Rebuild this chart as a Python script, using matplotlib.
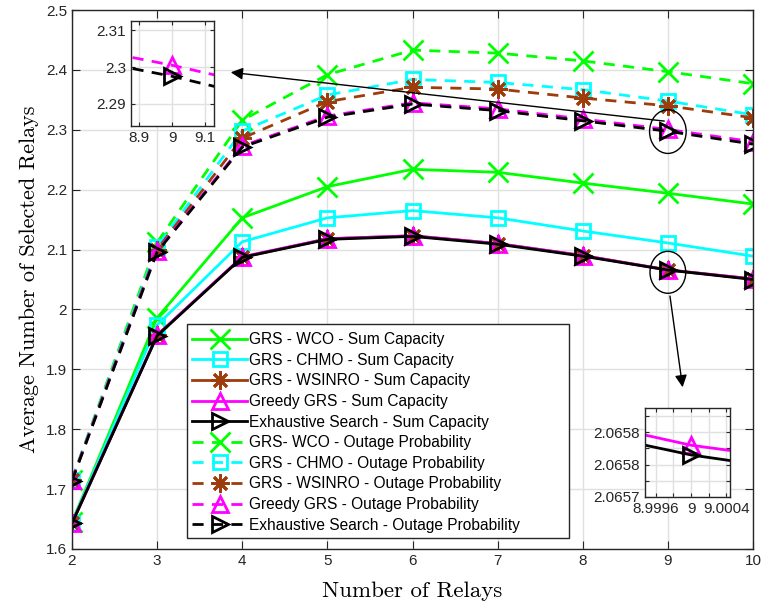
import matplotlib
matplotlib.use("Agg")
import matplotlib.pyplot as plt
from matplotlib.patches import Ellipse, Rectangle
import numpy as np

relays = [2, 3, 4, 5, 6, 7, 8, 9, 10]

# Sum capacity (solid)
wco_sc    = [1.645, 1.986, 2.153, 2.205, 2.234, 2.229, 2.211, 2.194, 2.176]
chmo_sc   = [1.644, 1.974, 2.113, 2.153, 2.165, 2.153, 2.131, 2.111, 2.089]
wsinro_sc = [1.643, 1.957, 2.087, 2.118, 2.123, 2.110, 2.090, 2.0662, 2.051]
greedy_sc = [1.643, 1.957, 2.088, 2.118, 2.123, 2.110, 2.090, 2.065804, 2.051]
exh_sc    = [1.643, 1.956, 2.087, 2.117, 2.122, 2.109, 2.089, 2.065792, 2.050]

# Outage probability (dashed)
wco_op    = [1.716, 2.112, 2.316, 2.392, 2.433, 2.428, 2.415, 2.397, 2.377]
chmo_op   = [1.716, 2.105, 2.298, 2.358, 2.384, 2.379, 2.367, 2.348, 2.325]
wsinro_op = [1.715, 2.100, 2.286, 2.347, 2.371, 2.368, 2.353, 2.340, 2.320]
greedy_op = [1.715, 2.098, 2.273, 2.323, 2.345, 2.335, 2.318, 2.3005, 2.280]
exh_op    = [1.714, 2.096, 2.271, 2.321, 2.343, 2.332, 2.315, 2.2975, 2.276]

labels = [
    "GRS - WCO - Sum Capacity",
    "GRS - CHMO - Sum Capacity",
    "GRS - WSINRO - Sum Capacity",
    "Greedy GRS - Sum Capacity",
    "Exhaustive Search - Sum Capacity",
    "GRS- WCO - Outage Probability",
    "GRS - CHMO - Outage Probability",
    "GRS - WSINRO - Outage Probability",
    "Greedy GRS - Outage Probability",
    "Exhaustive Search - Outage Probability",
]

GREEN = "#00ff00"
CYAN = "#00ffff"
BROWN = "#9e3c0c"
MAG = "#ff00ff"
BLACK = "#000000"
ASTER = (8, 2, 0)
DASH = (0, (4, 3))

# (values, colour, marker, markersize, linestyle)
series = [
    (wco_sc, GREEN, "x", 14, "-"),
    (chmo_sc, CYAN, "s", 10, "-"),
    (wsinro_sc, BROWN, ASTER, 13, "-"),
    (greedy_sc, MAG, "^", 12, "-"),
    (exh_sc, BLACK, ">", 12, "-"),
    (wco_op, GREEN, "x", 14, DASH),
    (chmo_op, CYAN, "s", 10, DASH),
    (wsinro_op, BROWN, ASTER, 13, DASH),
    (greedy_op, MAG, "^", 12, DASH),
    (exh_op, BLACK, ">", 12, DASH),
]

fig = plt.figure(figsize=(7.61, 6.09), dpi=100)
ax = fig.add_axes([72/761, 60/609, 681/761, 539/609])

def draw(a, lw=2.0, mew=2.0, label=True):
    for (vals, c, m, ms, ls), lab in zip(series, labels):
        a.plot(relays, vals, color=c, linestyle=ls, linewidth=lw, marker=m,
               markersize=ms, markerfacecolor="none", markeredgecolor=c,
               markeredgewidth=mew, label=lab if label else None)

def style_ticks(a, length):
    a.tick_params(direction="in", top=True, right=True, length=length, labelsize=11,
                  colors="#262626", labelcolor="#262626")
    for t in a.get_xticklabels() + a.get_yticklabels():
        t.set_fontfamily("Liberation Sans")
    for s in a.spines.values():
        s.set_color("#262626")
        s.set_linewidth(1.0)
    a.grid(True, color="#e0e0e0", linewidth=1.0)
    a.set_axisbelow(True)

draw(ax)
ax.set_xlim(2, 10)
ax.set_ylim(1.6, 2.5)
ax.set_xticks(relays)
ax.set_yticks(np.round(np.arange(1.6, 2.501, 0.1), 1))
ax.set_yticklabels(["1.6", "1.7", "1.8", "1.9", "2", "2.1", "2.2", "2.3", "2.4", "2.5"])
style_ticks(ax, 6)
ax.set_xlabel("Number of Relays", fontfamily="cmr10", fontsize=16.5, labelpad=10)
ax.set_ylabel("Average Number of Selected Relays", fontfamily="cmr10", fontsize=16, labelpad=5)

# Legend box (MATLAB-style with extra right padding)
ax.add_patch(Rectangle((187/761, 71/609), 382/761, 214/609, transform=fig.transFigure,
                       facecolor="white", edgecolor="#262626", linewidth=1.0, zorder=4.9))
leg = ax.legend(loc="lower left", bbox_to_anchor=(187/761, 71/609), bbox_transform=fig.transFigure,
                prop={"family": "Liberation Sans", "size": 11.2},
                handlelength=3.5, handletextpad=0.15, labelspacing=0.36, borderpad=0.35,
                frameon=False, borderaxespad=0.0)

# Ellipses
ax.add_patch(Ellipse((9, 2.297), 0.43, 0.073, fill=False, edgecolor="black", linewidth=1.0, zorder=10))
ax.add_patch(Ellipse((9, 2.062), 0.42, 0.07, fill=False, edgecolor="black", linewidth=1.0, zorder=10))

# Inset 1
ax1 = fig.add_axes([131/761, (609-126)/609, 83/761, 105/609])
draw(ax1, label=False)
ax1.set_xlim(8.876, 9.127)
ax1.set_ylim(2.284, 2.3125)
ax1.set_xticks([8.9, 9, 9.1])
ax1.set_xticklabels(["8.9", "9", "9.1"])
ax1.set_yticks([2.29, 2.3, 2.31])
ax1.set_yticklabels(["2.29", "2.3", "2.31"])
style_ticks(ax1, 3)

# Inset 2
ax2 = fig.add_axes([645/761, (609-497)/609, 85/761, 89/609])
draw(ax2, label=False)
ax2.set_xlim(8.99948, 9.00044)
ax2.set_ylim(2.06574, 2.06585)
ax2.set_xticks([8.9996, 8.9998, 9.0, 9.0002, 9.0004])
ax2.set_xticklabels(["8.9996", "", "9", "", "9.0004"])
ax2.set_yticks([2.06574, 2.06576, 2.06578, 2.0658, 2.06582, 2.06584])
ax2.set_yticklabels(["2.0657", "", "2.0658", "", "2.0658", ""])
style_ticks(ax2, 3)

# Arrows
ax.annotate("", xy=(228/761, (609-72)/609), xycoords="figure fraction",
            xytext=(8.99, 2.314), textcoords="data",
            arrowprops=dict(arrowstyle="-|>", color="black", lw=1.0, mutation_scale=18), zorder=11)
ax.annotate("", xy=(683/761, (609-390)/609), xycoords="figure fraction",
            xytext=(9.02, 2.027), textcoords="data",
            arrowprops=dict(arrowstyle="-|>", color="black", lw=1.0, mutation_scale=18), zorder=11)

fig.savefig("out.png", dpi=100)
